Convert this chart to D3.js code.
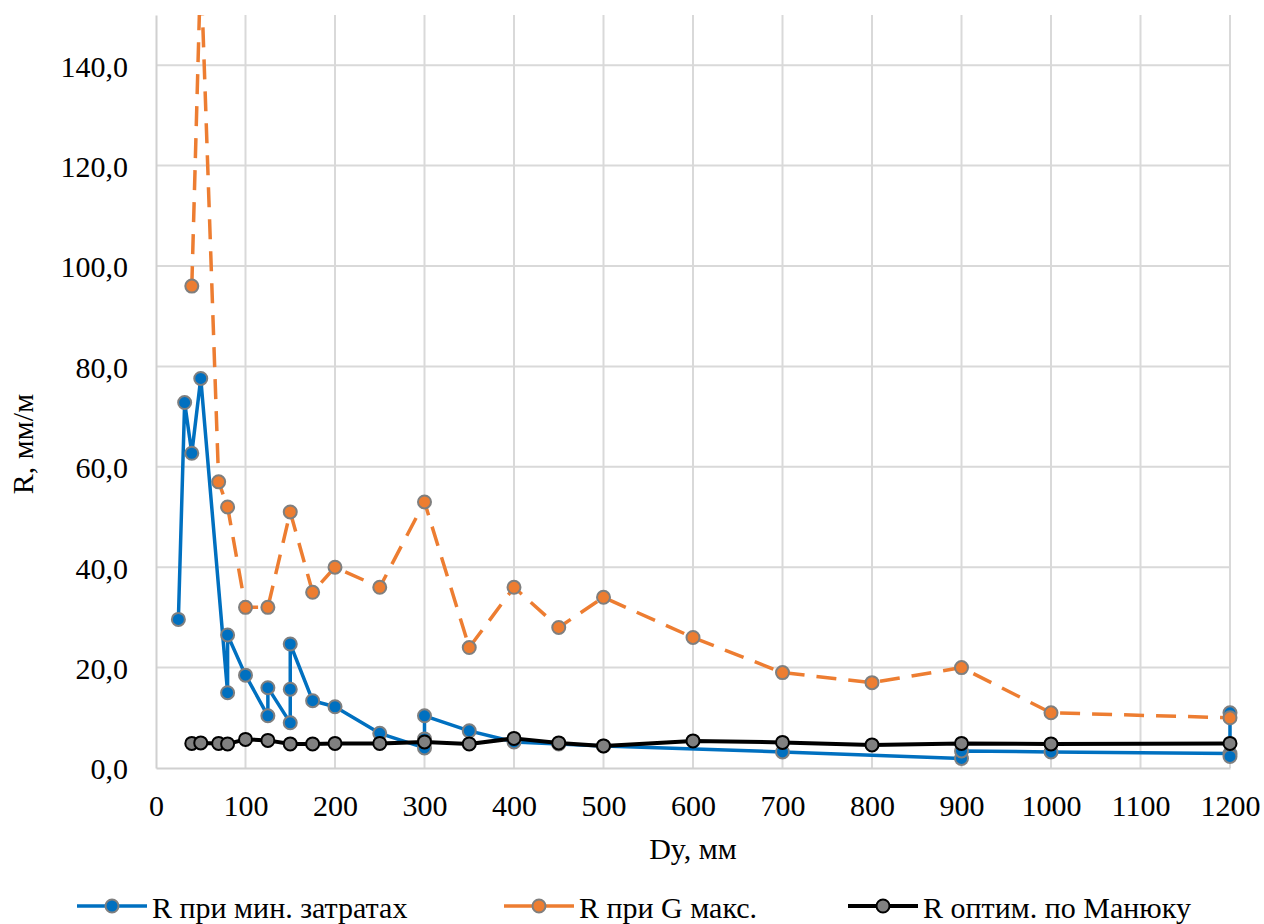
<!DOCTYPE html>
<html>
<head>
<meta charset="utf-8">
<script src="https://cdn.jsdelivr.net/npm/d3@7"></script>
<style>
body{margin:0;background:#fff;font-family:"Liberation Serif",serif;}
#chart{position:relative;width:1264px;height:924px;}
</style>
</head>
<body>
<div id="chart"></div>
<script>
// R при мин. затратах
var dyMin = [25,32,40,50,80,80,100,125,125,150,150,150,175,200,250,300,300,300,350,400,450,500,700,900,900,1000,1200,1200,1200]
var rMin = [29.6,72.8,62.7,77.6,15.0,26.5,18.5,10.4,16.0,9.0,15.7,24.7,13.4,12.2,6.9,4.0,5.8,10.4,7.4,5.2,4.8,4.4,3.2,1.9,3.4,3.2,2.9,2.3,11.0]

// R при G макс.
var dyG = [40,50,70,80,100,125,150,175,200,250,300,350,400,450,500,600,700,800,900,1000,1200]
var rG = [96,160,57,52,32,32,51,35,40,36,53,24,36,28,34,26,19,17,20,11,10]

// R оптим. по Манюку
var dyOpt = [40,50,70,80,100,125,150,175,200,250,300,350,400,450,500,600,700,800,900,1000,1200]
var rOpt = [4.9,5.0,4.9,4.8,5.7,5.5,4.8,4.8,4.9,4.9,5.2,4.8,5.9,5.0,4.4,5.4,5.1,4.6,4.9,4.8,4.9]

var xTicks = [0,100,200,300,400,500,600,700,800,900,1000,1100,1200]
var yTicks = [0,20,40,60,80,100,120,140]
var seriesNames = ["R при мин. затратах","R при G макс.","R оптим. по Манюку"]

var zip = function(xs,ys)
{
    return xs.map(function(x,i){ return {x:x,y:ys[i]}; });
}

var screen = {width:1264,height:924}
var margins = {left:156,right:34,top:15,bottom:156}
var graph = {
    width:screen.width-margins.left-margins.right,
    height:screen.height-margins.top-margins.bottom
}

var svg = d3.select("#chart")
    .append("svg")
    .attr("width",screen.width)
    .attr("height",screen.height)
    .attr("font-family","Liberation Serif, Times New Roman, serif")
    .attr("font-size",30)

svg.append("defs").append("clipPath")
    .attr("id","plotClip")
    .append("rect")
    .attr("x",-10)
    .attr("y",0)
    .attr("width",graph.width+20)
    .attr("height",graph.height+10)

var target = svg.append("g")
    .attr("transform","translate("+margins.left+","+margins.top+")")

var xScale = d3.scaleLinear()
    .domain([0,1200])
    .range([0,graph.width])

var yScale = d3.scaleLinear()
    .domain([0,150])
    .range([graph.height,0])

var fmt = function(d){ return d3.format(".1f")(d).replace(".",","); }

// grid
target.append("g")
    .selectAll("line")
    .data(xTicks.slice(1))
    .enter()
    .append("line")
    .attr("x1",function(d){ return xScale(d); })
    .attr("x2",function(d){ return xScale(d); })
    .attr("y1",0)
    .attr("y2",graph.height)
    .attr("stroke","#d9d9d9")
    .attr("stroke-width",2)

target.append("g")
    .selectAll("line")
    .data(yTicks.slice(1))
    .enter()
    .append("line")
    .attr("x1",0)
    .attr("x2",graph.width)
    .attr("y1",function(d){ return yScale(d); })
    .attr("y2",function(d){ return yScale(d); })
    .attr("stroke","#d9d9d9")
    .attr("stroke-width",2)

// axes
var xAxis = target.append("g")
    .attr("transform","translate(0,"+graph.height+")")
    .call(d3.axisBottom(xScale).tickValues(xTicks).tickFormat(d3.format("d")).tickSize(0).tickPadding(20))
xAxis.select(".domain").attr("stroke","#d0d0d0").attr("stroke-width",2)
xAxis.selectAll("text").attr("dy",null).attr("y",48)

var yAxis = target.append("g")
    .call(d3.axisLeft(yScale).tickValues(yTicks).tickFormat(fmt).tickSize(0).tickPadding(28))
yAxis.select(".domain").attr("stroke","#d0d0d0").attr("stroke-width",2)
yAxis.selectAll("text").attr("dy","0.36em")

// d3 axes put sans-serif on their groups, take it off
xAxis.attr("font-family",null).attr("font-size",null)
yAxis.attr("font-family",null).attr("font-size",null)

// titles
svg.append("text")
    .attr("x",margins.left+graph.width/2)
    .attr("y",859)
    .attr("text-anchor","middle")
    .text("Dy, мм")

svg.append("text")
    .attr("transform","translate(33,444) rotate(-90)")
    .attr("text-anchor","middle")
    .text("R, мм/м")

var line = d3.line()
    .x(function(d){ return xScale(d.x); })
    .y(function(d){ return yScale(d.y); })

var plot = target.append("g").attr("clip-path","url(#plotClip)")

var series = [
    {data:zip(dyMin,rMin),color:"#0070c0",width:3.5,dash:null,fill:"#0070c0",edge:"#7f7f7f"},
    {data:zip(dyG,rG),color:"#ed7d31",width:3.5,dash:"20,12",fill:"#ed7d31",edge:"#7f7f7f"},
    {data:zip(dyOpt,rOpt),color:"#000000",width:4,dash:null,fill:"#808080",edge:"#000000"}
]

series.forEach(function(s)
{
    plot.append("path")
        .datum(s.data)
        .attr("d",line)
        .attr("fill","none")
        .attr("stroke",s.color)
        .attr("stroke-width",s.width)
        .attr("stroke-dasharray",s.dash)
        .attr("stroke-linejoin","round")

    plot.append("g")
        .selectAll("circle")
        .data(s.data.filter(function(d){ return d.y<=150; }))
        .enter()
        .append("circle")
        .attr("cx",function(d){ return xScale(d.x); })
        .attr("cy",function(d){ return yScale(d.y); })
        .attr("r",6.5)
        .attr("fill",s.fill)
        .attr("stroke",s.edge)
        .attr("stroke-width",2)
})

// legend
var legendX = [77,504,848]
var legend = svg.append("g")
    .selectAll("g")
    .data(series)
    .enter()
    .append("g")
    .attr("transform",function(s,i){ return "translate("+legendX[i]+",906)"; })

legend.append("line")
    .attr("x1",0)
    .attr("x2",70)
    .attr("stroke",function(s){ return s.color; })
    .attr("stroke-width",function(s){ return s.width; })

legend.append("circle")
    .attr("cx",35)
    .attr("r",6.5)
    .attr("fill",function(s){ return s.fill; })
    .attr("stroke",function(s){ return s.edge; })
    .attr("stroke-width",2)

legend.append("text")
    .attr("x",75)
    .attr("y",12)
    .text(function(s,i){ return seriesNames[i]; })

svg.selectAll("text")
    .attr("font-family","Liberation Serif")
    .attr("fill","#000")
</script>
</body>
</html>
